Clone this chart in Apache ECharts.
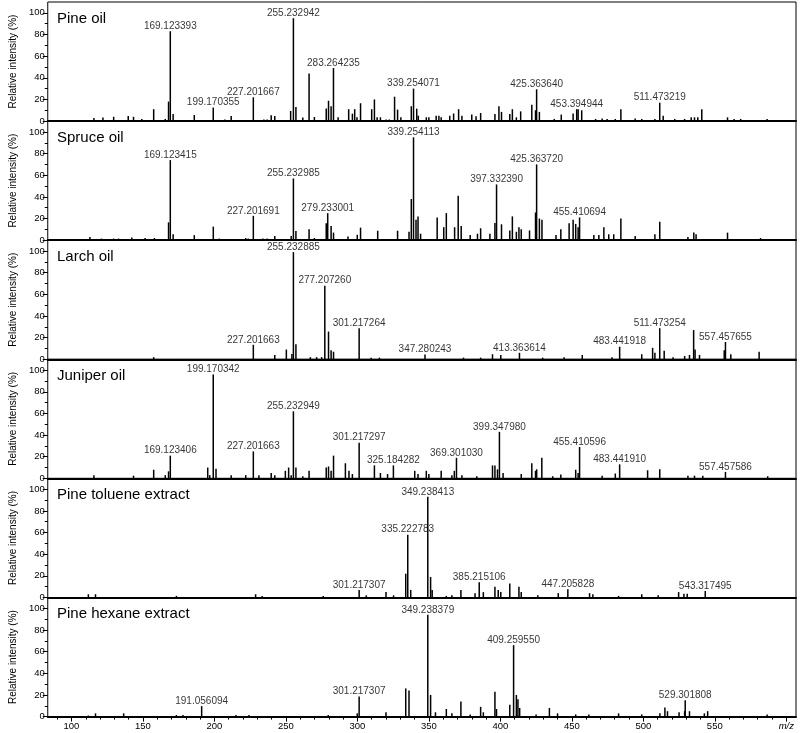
<!DOCTYPE html>
<html><head><meta charset="utf-8">
<script src="https://cdn.jsdelivr.net/npm/echarts/dist/echarts.min.js"></script>
<style>html,body{margin:0;padding:0;background:#fff}#c{width:800px;height:733px}</style>
</head><body><div id="c"></div>
<script>
// ---------- DATA ----------
const panelNames = ['Pine oil', 'Spruce oil', 'Larch oil', 'Juniper oil', 'Pine toluene extract', 'Pine hexane extract'];

// [m/z, relative intensity %]
const pineOil = [
 [115.7,2.8],[122.0,3.4],[129.5,4],[139.7,4.7],[143.4,4],[149.2,2],[157.5,11],[165.6,2],[167.9,18],[169.123393,83],[171.1,6.5],
 [185.9,5.6],[199.170355,12.5],[207.3,1.5],[211.7,4.7],[227.201667,22],[234.6,1.5],[236.9,1.5],[239.7,5.3],[242.2,4.7],
 [253.3,9.4],[255.232942,95],[257.0,13],[261.8,3.4],[266.2,44],[269.9,3.8],[278.2,11.6],[279.8,18.8],[281.6,13.7],[283.264235,49],
 [286.5,3.5],[293.9,11],[296.5,6.9],[298.1,11],[299.7,3.5],[302.2,16.5],[310.0,11],[311.9,20],[313.8,3.5],[316.1,3.5],[320.0,1.5],
 [322.3,1.5],[326.0,22.5],[328.1,10.6],[330.4,3.5],[337.7,13.7],[339.254071,30],[341.5,11.5],[342.6,5],[348.2,3.5],[350.0,3.5],
 [355.1,5],[357.0,5],[358.6,3.5],[364.6,5],[367.3,7],[370.8,11],[373.1,5],[380.0,6],[383.0,4.5],[386.2,7.5],[396.2,6.5],[399.0,13.7],
 [400.8,8.5],[406.6,6.5],[408.4,11],[411.2,3.5],[414.2,9],[422.0,15],[424.6,10],[425.363640,29.4],[427.3,8.5],[437.7,2],[442.6,6],
 [450.9,7],[453.394944,11],[454.4,11],[456.9,10],[466.6,2],[471.2,2.5],[474.7,2],[480.4,2],[484.3,11],[494.3,2.5],[498.9,2],
 [508.1,2],[511.473219,17],[513.9,5],[522.0,2],[528.9,2],[533.5,3.5],[535.8,3.5],[538.1,3.5],[540.9,11],[558.9,3.5],[563.5,2],
 [568.1,2],[586.6,2]
];
const spruceOil = [
 [112.9,3],[121.0,1.5],[129.5,1.5],[133.0,1.5],[142.2,2.5],[151.5,2],[158.0,2],[167.9,16.5],[169.123415,74],[171.1,5.6],[185.9,4.7],
 [199.2,12.5],[203.4,1.5],[221.9,2],[223.7,1.5],[227.201691,22.5],[233.9,1.5],[236.9,1.5],[242.2,3.8],[253.7,3.8],[255.232985,57],
 [257.0,8.4],[266.2,10],[269.9,2],[278.2,15.6],[279.233001,25],[281.6,13],[283.3,7],[293.4,3.5],[299.9,5],[302.2,11.6],[314.2,8.75],
 [328.1,8.75],[336.1,7.8],[337.7,38],[339.254113,95],[341.0,18.8],[342.4,22],[344.2,6],[355.8,21],[360.4,12],[362.2,25],[368.0,12],
 [370.5,41],[372.6,13],[378.9,4.7],[384.0,6],[386.2,11],[392.7,6],[396.2,16],[397.332390,51.5],[400.8,14.7],[406.6,9],[408.4,22],
 [411.2,7.8],[413.0,12],[414.6,10],[420.4,9],[424.6,25.6],[425.363720,70],[427.3,20],[429.1,18.8],[438.9,4.7],[442.3,10],[448.1,15.6],
 [450.9,19],[452.7,15],[454.4,12],[455.410694,21],[465.4,4.7],[468.9,4.7],[472.4,12],[475.8,5.5],[479.3,5.5],[484.3,20],[494.3,3.8],
 [508.1,5.5],[511.5,17],[531.2,3],[535.3,7],[536.9,5.5],[558.9,7],[582.0,2]
];
const larchOil = [
 [157.5,2],[227.201663,13.4],[242.2,4],[250.3,9],[254.2,5],[255.232885,99],[257.0,14],[267.1,2],[271.5,2],[275.0,2],[277.207260,68],
 [279.8,25.6],[281.6,8.4],[283.3,7],[301.217264,28.75],[309.6,1.5],[315.4,1.5],[347.280243,4.4],[374.2,1.5],[386.2,1.5],[394.5,4.7],
 [400.3,4],[413.363614,6],[429.6,1.5],[444.6,2],[457.3,4],[478.1,2],[483.441918,11.6],[498.9,4.7],[506.5,10.6],[508.1,6],
 [511.473254,28.75],[514.6,8],[520.8,2],[528.9,3],[532.3,4],[535.2,27],[536.2,9],[539.3,4],[556.6,8.4],[557.457655,16],[561.2,4.7],[581.0,7]
];
const juniperOil = [
 [115.7,3],[143.4,2.5],[157.5,8],[165.6,3],[167.9,6.5],[169.123406,21],[195.3,10],[196.7,3],[199.170342,96],[201.1,9],[211.7,3],
 [221.9,3],[227.201663,25],[231.1,3],[239.7,5],[242.2,3],[249.6,7],[251.9,10],[253.7,3],[255.232949,62],[257.0,10],[261.8,2],[266.2,7],
 [278.2,10],[279.8,11],[281.6,7],[283.3,21],[291.6,14],[294.1,7],[296.5,4],[301.217297,33],[311.9,12],[316.1,5],[321.1,4],
 [325.184282,12],[340.1,7],[342.4,4],[348.2,7],[350.0,4],[358.6,7],[366.1,3],[367.8,7],[369.301030,19],[373.1,3],[383.5,2],
 [394.5,12],[396.2,12],[398.0,8.4],[399.347980,43],[401.9,5],[414.6,4],[422.0,14],[424.6,7],[425.4,8.4],[429.0,19],[436.6,2],
 [442.3,3.5],[452.7,8],[454.4,5],[455.410596,29],[471.2,2.5],[480.4,4.5],[483.441910,13],[503.0,7.5],[511.5,8.4],[531.2,2.5],
 [535.8,2.5],[541.6,2.5],[557.457586,6],[587.0,2]
];
const pineToluene = [
 [111.8,3],[116.8,3],[173.4,1.5],[228.8,3],[233.4,1.5],[276.1,1.5],[301.217307,7],[306.2,2],[320.0,5],[325.3,2],[333.8,22],
 [335.222783,58],[337.3,7],[349.238413,93],[351.2,19],[352.3,7],[362.2,1.5],[366.1,2],[372.4,7],[382.3,4],[385.215106,14],[388.1,5],
 [396.2,10],[398.5,7],[400.3,5],[406.6,13],[413.0,10],[414.6,5],[426.2,2],[440.5,4],[447.205828,7.6],[462.4,4],[464.7,3],[482.7,1.5],
 [498.9,3],[510.4,2],[524.7,5],[528.4,3.5],[530.7,3.5],[543.317495,6]
];
const pineHexane = [
 [111.8,1],[116.8,3],[136.5,3],[173.4,1.5],[178.0,1.5],[191.056094,9.7],[215.0,1.5],[224.2,1.5],[279.6,1.5],[299.9,3],
 [301.217307,18.5],[320.0,4],[333.8,26],[336.1,24],[349.238379,94],[351.2,20],[354.6,4],[362.2,7],[366.1,3],[372.4,14],[378.9,2],
 [386.2,9],[388.1,4],[396.2,23],[397.3,7],[406.6,11],[409.259550,66],[411.2,20],[412.3,16],[413.5,8],[425.0,2],[434.3,8],[440.0,3],
 [452.7,2],[461.9,2],[482.7,3],[498.9,2],[511.6,3],[515.1,8.5],[516.9,5],[525.0,4],[528.9,5],[529.301808,15],[532.3,5],[542.7,3],
 [545.0,5],[586.6,2]
];
const spectra = [pineOil, spruceOil, larchOil, juniperOil, pineToluene, pineHexane];

// peak annotations (text = the labelled m/z)
const pineOilLabels = ['169.123393','199.170355','227.201667','255.232942','283.264235','339.254071','425.363640','453.394944','511.473219'];
const spruceOilLabels = ['169.123415','227.201691','255.232985','279.233001','339.254113','397.332390','425.363720','455.410694'];
const larchOilLabels = ['227.201663','255.232885','277.207260','301.217264','347.280243','413.363614','483.441918','511.473254','557.457655'];
const juniperOilLabels = ['169.123406','199.170342','227.201663','255.232949','301.217297','325.184282','369.301030','399.347980','455.410596','483.441910','557.457586'];
const pineTolueneLabels = ['301.217307','335.222783','349.238413','385.215106','447.205828','543.317495'];
const pineHexaneLabels = ['191.056094','301.217307','349.238379','409.259550','529.301808'];
const peakLabels = [pineOilLabels, spruceOilLabels, larchOilLabels, juniperOilLabels, pineTolueneLabels, pineHexaneLabels];

const yTickLabels = [0, 20, 40, 60, 80, 100];
const xTickLabels = [100, 150, 200, 250, 300, 350, 400, 450, 500, 550];
const xAxisTitleValue = 600; // position of the "m/z" title on the m/z scale

// ---------- CHART ----------
const FONT = 'Liberation Sans, Arial, Helvetica, sans-serif';
const X_MIN = 83.4, X_MAX = 606.8;
const PANEL_TOP = 2, PANEL_H = 119.1;
const yMinor = [10, 30, 50, 70, 90];
const xMinor = [];
for (let v = 90; v <= 600; v += 10) if (v % 50 !== 0) xMinor.push(v);
const xMajor = xTickLabels.concat([xAxisTitleValue]);

const grid = [], xAxis = [], yAxis = [], series = [], title = [];
spectra.forEach((spec, i) => {
  const last = i === spectra.length - 1;
  grid.push({left: 40, right: 4, top: PANEL_TOP + PANEL_H * i, height: PANEL_H,
    show: true, borderColor: '#000', borderWidth: 1, backgroundColor: 'transparent', containLabel: false});
  title.push({text: panelNames[i], left: 52, top: PANEL_TOP + PANEL_H * i + 4,
    textStyle: {fontFamily: FONT, fontSize: 15, fontWeight: 'normal', color: '#000'}});
  // main x axis (baseline drawn as axis line)
  xAxis.push({type: 'value', gridIndex: i, min: X_MIN, max: X_MAX, position: 'bottom',
    axisLine: {show: true, onZero: false, lineStyle: {color: '#000', width: 2}}, splitLine: {show: false},
    axisTick: {show: last, length: 5, lineStyle: {color: '#000', width: 1}, customValues: xMajor},
    axisLabel: {show: last, margin: 5, customValues: xMajor, fontFamily: FONT, fontSize: 9.5, color: '#000',
      formatter: v => v === xAxisTitleValue ? '{i|m/z}' : String(v),
      rich: {i: {fontStyle: 'italic', fontFamily: FONT, fontSize: 9.5, color: '#000'}}}
  });
  // minor x ticks
  xAxis.push({type: 'value', gridIndex: i, min: X_MIN, max: X_MAX, position: 'bottom',
    axisLine: {show: false}, splitLine: {show: false}, axisLabel: {show: false},
    axisTick: {show: last, length: 3, lineStyle: {color: '#000', width: 1}, customValues: xMinor}
  });
  yAxis.push({type: 'value', gridIndex: i, min: 0, max: 110, position: 'left',
    name: 'Relative intensity (%)', nameLocation: 'middle', nameGap: 28,
    nameTextStyle: {fontFamily: FONT, fontSize: 10, color: '#000'},
    axisLine: {show: false}, splitLine: {show: false},
    axisTick: {show: true, length: 5, lineStyle: {color: '#000', width: 1}, customValues: yTickLabels},
    axisLabel: {show: true, margin: 3, customValues: yTickLabels, fontFamily: FONT, fontSize: 9.5, color: '#000'}
  });
  yAxis.push({type: 'value', gridIndex: i, min: 0, max: 110, position: 'left',
    axisLine: {show: false}, splitLine: {show: false}, axisLabel: {show: false},
    axisTick: {show: true, length: 3, lineStyle: {color: '#000', width: 1}, customValues: yMinor}
  });
  series.push({type: 'bar', xAxisIndex: 2 * i, yAxisIndex: 2 * i, data: spec, barWidth: 1.5,
    itemStyle: {color: '#000'}, silent: true, animation: false});
  const lab = peakLabels[i].map(t => {
    const mz = parseFloat(t);
    let best = spec[0];
    spec.forEach(p => { if (Math.abs(p[0] - mz) < Math.abs(best[0] - mz)) best = p; });
    return {name: t, value: [mz, best[1]]};
  });
  series.push({type: 'scatter', xAxisIndex: 2 * i, yAxisIndex: 2 * i, data: lab, symbolSize: 0.01,
    silent: true, animation: false,
    label: {show: true, position: 'top', distance: 0, formatter: p => p.name,
      fontFamily: FONT, fontSize: 10, color: '#000'}});
});

const chart = echarts.init(document.getElementById('c'), null, {renderer: 'canvas'});
chart.setOption({animation: false, backgroundColor: '#fff', title, grid, xAxis, yAxis, series});
</script>
</body></html>
